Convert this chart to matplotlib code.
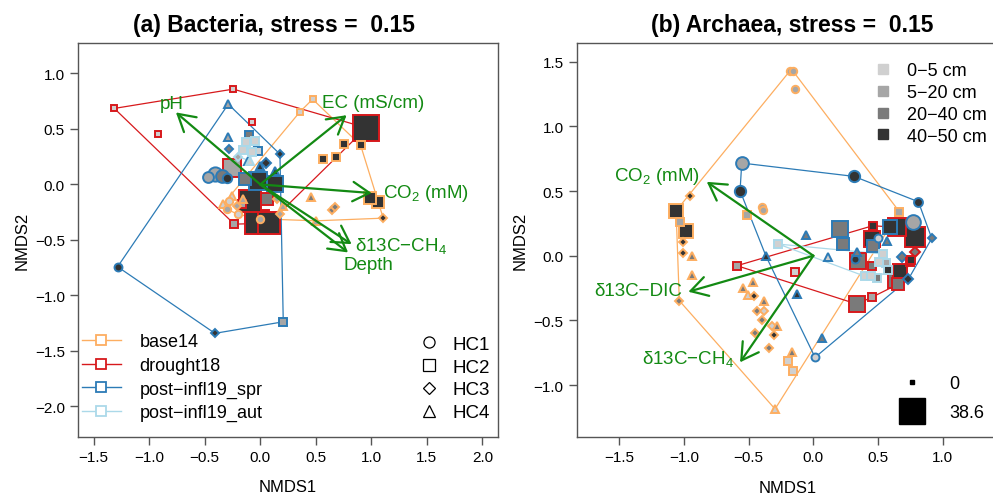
import matplotlib
matplotlib.use('Agg')
import matplotlib.pyplot as plt
from matplotlib.lines import Line2D

plt.rcParams['font.family'] = ['Liberation Sans', 'DejaVu Sans']
plt.rcParams['mathtext.fontset'] = 'custom'
plt.rcParams['mathtext.rm'] = 'Liberation Sans'
plt.rcParams['mathtext.default'] = 'regular'

# groups / styling keys
campaigns = ['base14', 'drought18', 'post−infl19_spr', 'post−infl19_aut']
camp_cols = ['#FDAE61', '#D7191C', '#2C7BB6', '#ABD9E9']
hc_labels = ['HC1', 'HC2', 'HC3', 'HC4']
hc_markers = ['o', 's', 'D', '^']
depth_labels = ['0−5 cm', '5−20 cm', '20−40 cm', '40−50 cm']
depth_cols = ['#d0d0d0', '#a6a6a6', '#7a7a7a', '#333333']
size_legend = [0, 38.6]
green = '#138a13'

# site scores: (NMDS1, NMDS2, HC, depth class, abundance)
bac_base14 = [(0.471, 0.768, 2, 0, 0), (0.357, 0.654, 2, 0, 0), (0.753, 0.360, 2, 3, 3),
              (0.903, 0.354, 2, 3, 3), (0.567, 0.228, 2, 3, 2), (0.681, 0.249, 2, 3, 2),
              (0.987, -0.126, 2, 3, 9), (1.062, -0.162, 2, 3, 11), (0.453, -0.117, 4, 2, 2),
              (0.643, -0.229, 3, 2, 1), (0.672, -0.207, 3, 2, 1), (1.107, -0.304, 3, 3, 1),
              (0.498, -0.328, 4, 1, 1), (-0.257, -0.103, 4, 0, 1), (-0.333, -0.177, 4, 0, 1),
              (-0.303, -0.222, 1, 1, 1), (-0.212, -0.193, 3, 1, 1), (-0.153, -0.132, 4, 1, 1),
              (0.147, -0.132, 3, 1, 1), (0.207, -0.193, 4, 1, 1), (-0.20, -0.27, 1, 0, 1),
              (0.0, -0.31, 1, 1, 1), (-0.28, -0.15, 1, 0, 1), (0.18, -0.27, 3, 1, 1)]
bac_drought18 = [(-1.314, 0.685, 2, 0, 0), (-0.243, 0.859, 2, 0, 0), (-0.918, 0.453, 2, 0, 0),
                 (-0.077, 0.564, 2, 0, 0), (0.954, 0.510, 2, 3, 38), (-0.234, -0.358, 2, 1, 1),
                 (-0.033, -0.342, 2, 3, 34), (0.081, -0.349, 2, 3, 30), (-0.257, 0.144, 2, 1, 24),
                 (-0.093, -0.148, 2, 3, 30), (0.057, -0.132, 2, 2, 12), (-0.168, -0.177, 2, 1, 3)]
bac_spr = [(-1.284, -0.742, 1, 3, 2), (-0.288, 0.723, 4, 1, 1), (0.177, 0.273, 3, 3, 1),
           (-0.408, -1.342, 3, 3, 1), (0.207, -1.238, 2, 1, 1), (-0.288, 0.430, 4, 1, 1),
           (-0.105, 0.444, 2, 2, 2), (-0.279, 0.320, 3, 2, 1), (-0.018, 0.297, 2, 0, 2),
           (-0.408, 0.093, 1, 1, 15), (-0.347, 0.072, 1, 2, 12), (-0.302, 0.054, 1, 3, 5),
           (-0.468, 0.063, 1, 1, 8), (-0.108, 0.213, 4, 2, 2), (-0.003, 0.168, 4, 3, 2),
           (0.051, 0.192, 3, 3, 2), (0.132, 0.123, 4, 3, 2), (-0.018, 0.032, 2, 3, 22),
           (0.132, 0.003, 2, 3, 18), (-0.138, 0.048, 2, 2, 10)]
bac_aut = [(-0.129, 0.378, 2, 0, 1), (-0.153, 0.309, 2, 0, 1), (-0.077, 0.288, 2, 0, 1),
           (-0.048, 0.393, 2, 0, 1), (-0.093, 0.213, 4, 0, 1), (-0.20, 0.25, 3, 1, 1)]

arc_base14 = [(-0.18, 1.429, 1, 1, 1), (-0.16, 1.43, 1, 1, 1), (-0.139, 1.287, 1, 1, 1),
              (-0.952, 0.459, 3, 3, 1), (-1.06, 0.347, 2, 3, 14), (-0.984, 0.193, 2, 3, 14),
              (-1.028, 0.258, 2, 1, 1), (-0.398, 0.374, 1, 1, 1), (-0.386, 0.355, 1, 1, 1),
              (-0.51, 0.314, 2, 1, 1), (0.664, 0.34, 2, 1, 1), (-1.004, 0.103, 3, 3, 1),
              (-1.004, 0.021, 3, 3, 1), (-0.939, 0.0, 4, 2, 1), (-0.939, -0.149, 4, 2, 1),
              (-1.035, -0.347, 3, 2, 1), (-0.463, -0.206, 4, 2, 1), (-0.541, -0.252, 4, 2, 1),
              (-0.502, -0.303, 4, 0, 1), (-0.458, -0.314, 3, 3, 1), (-0.381, -0.347, 4, 2, 1),
              (-0.437, -0.425, 3, 2, 1), (-0.381, -0.425, 3, 0, 1), (-0.398, -0.494, 3, 2, 1),
              (-0.321, -0.541, 3, 0, 1), (-0.283, -0.545, 4, 2, 1), (-0.303, -0.612, 3, 3, 1),
              (-0.45, -0.597, 3, 2, 1), (-0.34, -0.715, 3, 2, 1), (-0.167, -0.741, 4, 2, 1),
              (-0.193, -0.811, 2, 0, 1), (-0.154, -0.888, 2, 0, 1), (-0.296, -1.184, 4, 0, 1)]
arc_drought18 = [(-0.59, -0.077, 2, 1, 1), (-0.141, -0.128, 2, 0, 1), (0.451, -0.321, 2, 1, 1),
                 (0.335, -0.373, 2, 2, 18), (0.631, -0.193, 2, 2, 14), (0.747, -0.051, 2, 3, 1),
                 (0.459, 0.232, 2, 3, 1), (0.451, 0.129, 2, 3, 20), (0.644, 0.219, 2, 3, 24),
                 (0.785, 0.142, 2, 3, 26), (0.347, -0.039, 2, 2, 18), (0.669, -0.116, 2, 3, 14),
                 (0.656, -0.219, 2, 2, 12), (0.451, -0.082, 2, 2, 1), (0.752, -0.031, 2, 3, 1),
                 (0.785, 0.026, 3, 2, 4)]
arc_spr = [(-0.553, 0.716, 1, 1, 12), (-0.566, 0.502, 1, 3, 9), (0.314, 0.613, 1, 3, 9),
           (0.811, 0.417, 1, 3, 4), (0.767, 0.263, 1, 1, 16), (0.914, 0.134, 3, 2, 1),
           (-0.056, 0.16, 4, 2, 2), (-0.365, -0.005, 4, 3, 2), (0.116, -0.013, 4, 0, 2),
           (-0.128, -0.296, 4, 3, 2), (0.065, -0.638, 4, 2, 2), (0.013, -0.785, 1, 0, 2),
           (0.734, -0.18, 3, 3, 2), (0.206, 0.206, 2, 2, 18), (0.232, 0.09, 2, 2, 12),
           (0.592, 0.219, 2, 3, 16), (0.463, 0.073, 2, 2, 10), (0.322, -0.025, 1, 3, 2),
           (0.567, 0.116, 4, 2, 2), (0.502, 0.134, 1, 0, 2), (0.683, -0.013, 3, 2, 2),
           (0.335, 0.031, 4, 2, 2)]
arc_aut = [(-0.27, 0.09, 2, 0, 1), (0.541, 0.013, 2, 0, 1), (0.561, -0.056, 2, 1, 1),
           (0.507, -0.046, 2, 0, 1), (0.579, -0.108, 2, 3, 1), (0.49, -0.175, 2, 2, 1),
           (0.399, -0.159, 2, 0, 1), (0.443, -0.159, 2, 0, 1)]

# envfit vectors
bac_vec_labels = ['pH', 'EC (mS/cm)', 'CO$_2$ (mM)', 'δ13C−CH$_4$', 'Depth']
bac_vec_x = [-0.759, 0.777, 1.003, 0.822, 0.79]
bac_vec_y = [0.649, 0.624, -0.078, -0.538, -0.613]
bac_lab_x = [-0.80, 1.02, 1.49, 1.27, 0.97]
bac_lab_y = [0.73, 0.74, -0.07, -0.55, -0.72]

arc_vec_labels = ['CO$_2$ (mM)', 'δ13C−DIC', 'δ13C−CH$_4$']
arc_vec_x = [-0.823, -0.965, -0.566]
arc_vec_y = [0.571, -0.278, -0.823]
arc_lab_x = [-1.207, -1.35, -0.97]
arc_lab_y = [0.618, -0.27, -0.79]


def convex_hull(pts):
    pts = sorted(set(pts))
    def cross(o, a, b):
        return (a[0] - o[0]) * (b[1] - o[1]) - (a[1] - o[1]) * (b[0] - o[0])
    lower, upper = [], []
    for p in pts:
        while len(lower) >= 2 and cross(lower[-2], lower[-1], p) <= 0:
            lower.pop()
        lower.append(p)
    for p in reversed(pts):
        while len(upper) >= 2 and cross(upper[-2], upper[-1], p) <= 0:
            upper.pop()
        upper.append(p)
    return lower[:-1] + upper[:-1]


def msize(v):
    return 5.0 + 0.35 * v


def draw_panel(ax, groups, vx, vy, labels, lx, ly):
    # hulls
    for g, pts in enumerate(groups):
        h = convex_hull([(p[0], p[1]) for p in pts])
        h.append(h[0])
        ax.plot([p[0] for p in h], [p[1] for p in h], color=camp_cols[g], lw=0.9, zorder=1)
    # points, big first so small ones stay visible
    allpts = [(p, g) for g, pts in enumerate(groups) for p in pts]
    allpts.sort(key=lambda t: -t[0][4])
    for p, g in allpts:
        x, y, hc, d, v = p
        ax.plot(x, y, marker=hc_markers[hc - 1], ms=msize(v) * (0.85 if hc == 3 else 1.0),
                mfc=depth_cols[d], mec=camp_cols[g], mew=1.4, ls='none', zorder=2)
    # arrows
    for i in range(len(vx)):
        ax.annotate('', xy=(vx[i], vy[i]), xytext=(0, 0),
                    arrowprops=dict(arrowstyle='->,head_length=1.2,head_width=0.7',
                                    color=green, lw=1.6, shrinkA=0, shrinkB=0,
                                    mutation_scale=10), zorder=3)
        ax.text(lx[i], ly[i], labels[i], color=green, fontsize=13.5,
                ha='center', va='center', zorder=4)


def style_axes(ax, xticks, yticks):
    for s in ax.spines.values():
        s.set_color('#555555')
        s.set_linewidth(1.0)
    ax.set_xticks(xticks)
    ax.set_yticks(yticks)
    ax.tick_params(direction='out', length=5.5, width=1, color='#555555',
                   labelsize=11, pad=4)
    ax.set_xlabel('NMDS1', fontsize=12, labelpad=11)
    ax.set_ylabel('NMDS2', fontsize=12, labelpad=4)


fig = plt.figure(figsize=(9.93, 5.02), dpi=100)
ax1 = fig.add_axes([0.0785, 0.128, 0.4227, 0.784])
ax2 = fig.add_axes([0.5808, 0.127, 0.4243, 0.785])

# (a) Bacteria
draw_panel(ax1, [bac_base14, bac_drought18, bac_spr, bac_aut],
           bac_vec_x, bac_vec_y, bac_vec_labels, bac_lab_x, bac_lab_y)
ax1.set_xlim(-1.641, 2.137)
ax1.set_ylim(-2.274, 1.273)
style_axes(ax1, [-1.5, -1.0, -0.5, 0.0, 0.5, 1.0, 1.5, 2.0],
           [-2.0, -1.5, -1.0, -0.5, 0.0, 0.5, 1.0])
ax1.set_title('(a) Bacteria, stress =  0.15', fontsize=16.5, fontweight='bold',
              x=0.467, pad=8.5)

camp_handles = [Line2D([0], [0], color=c, lw=1, marker='s', mfc='white', mec=c,
                       ms=7, mew=1.3) for c in camp_cols]
leg1 = ax1.legend(camp_handles, campaigns, loc='lower left', bbox_to_anchor=(0.0, 0.03),
                  frameon=False, fontsize=13, handlelength=2.2, handletextpad=1.0,
                  labelspacing=0.36, borderaxespad=0, borderpad=0.2)
ax1.add_artist(leg1)
hc_handles = [Line2D([0], [0], color='black', marker=m, mfc='none', mec='black',
                     ms=8 if m != 'D' else 6.5, mew=0.9, ls='none') for m in hc_markers]
ax1.legend(hc_handles, hc_labels, loc='lower right', bbox_to_anchor=(0.99, 0.03),
           frameon=False, fontsize=13.5, handlelength=1.0, handletextpad=0.75,
           labelspacing=0.3, borderaxespad=0, borderpad=0.2)

# (b) Archaea
draw_panel(ax2, [arc_base14, arc_drought18, arc_spr, arc_aut],
           arc_vec_x, arc_vec_y, arc_vec_labels, arc_lab_x, arc_lab_y)
ax2.set_xlim(-1.827, 1.426)
ax2.set_ylim(-1.402, 1.642)
style_axes(ax2, [-1.5, -1.0, -0.5, 0.0, 0.5, 1.0],
           [-1.0, -0.5, 0.0, 0.5, 1.0, 1.5])
ax2.set_title('(b) Archaea, stress =  0.15', fontsize=16.5, fontweight='bold',
              x=0.511, pad=8.5)

depth_handles = [Line2D([0], [0], marker='s', color=c, ms=6.5, ls='none') for c in depth_cols]
leg2 = ax2.legend(depth_handles, depth_labels, loc='upper left', bbox_to_anchor=(0.706, 0.952),
                  frameon=False, fontsize=13, handlelength=1.0, handletextpad=0.8,
                  labelspacing=0.27, borderaxespad=0, borderpad=0)
ax2.add_artist(leg2)
size_handles = [Line2D([0], [0], marker='s', color='black', ms=2.5 + 0.42 * v, ls='none')
                for v in size_legend]
ax2.legend(size_handles, ['0', '38.6'], loc='lower left', bbox_to_anchor=(0.752, 0.04),
           frameon=False, fontsize=13, handlelength=2.0, handletextpad=1.1,
           labelspacing=0.7, borderaxespad=0, borderpad=0)

fig.savefig('out.png', dpi=100)
